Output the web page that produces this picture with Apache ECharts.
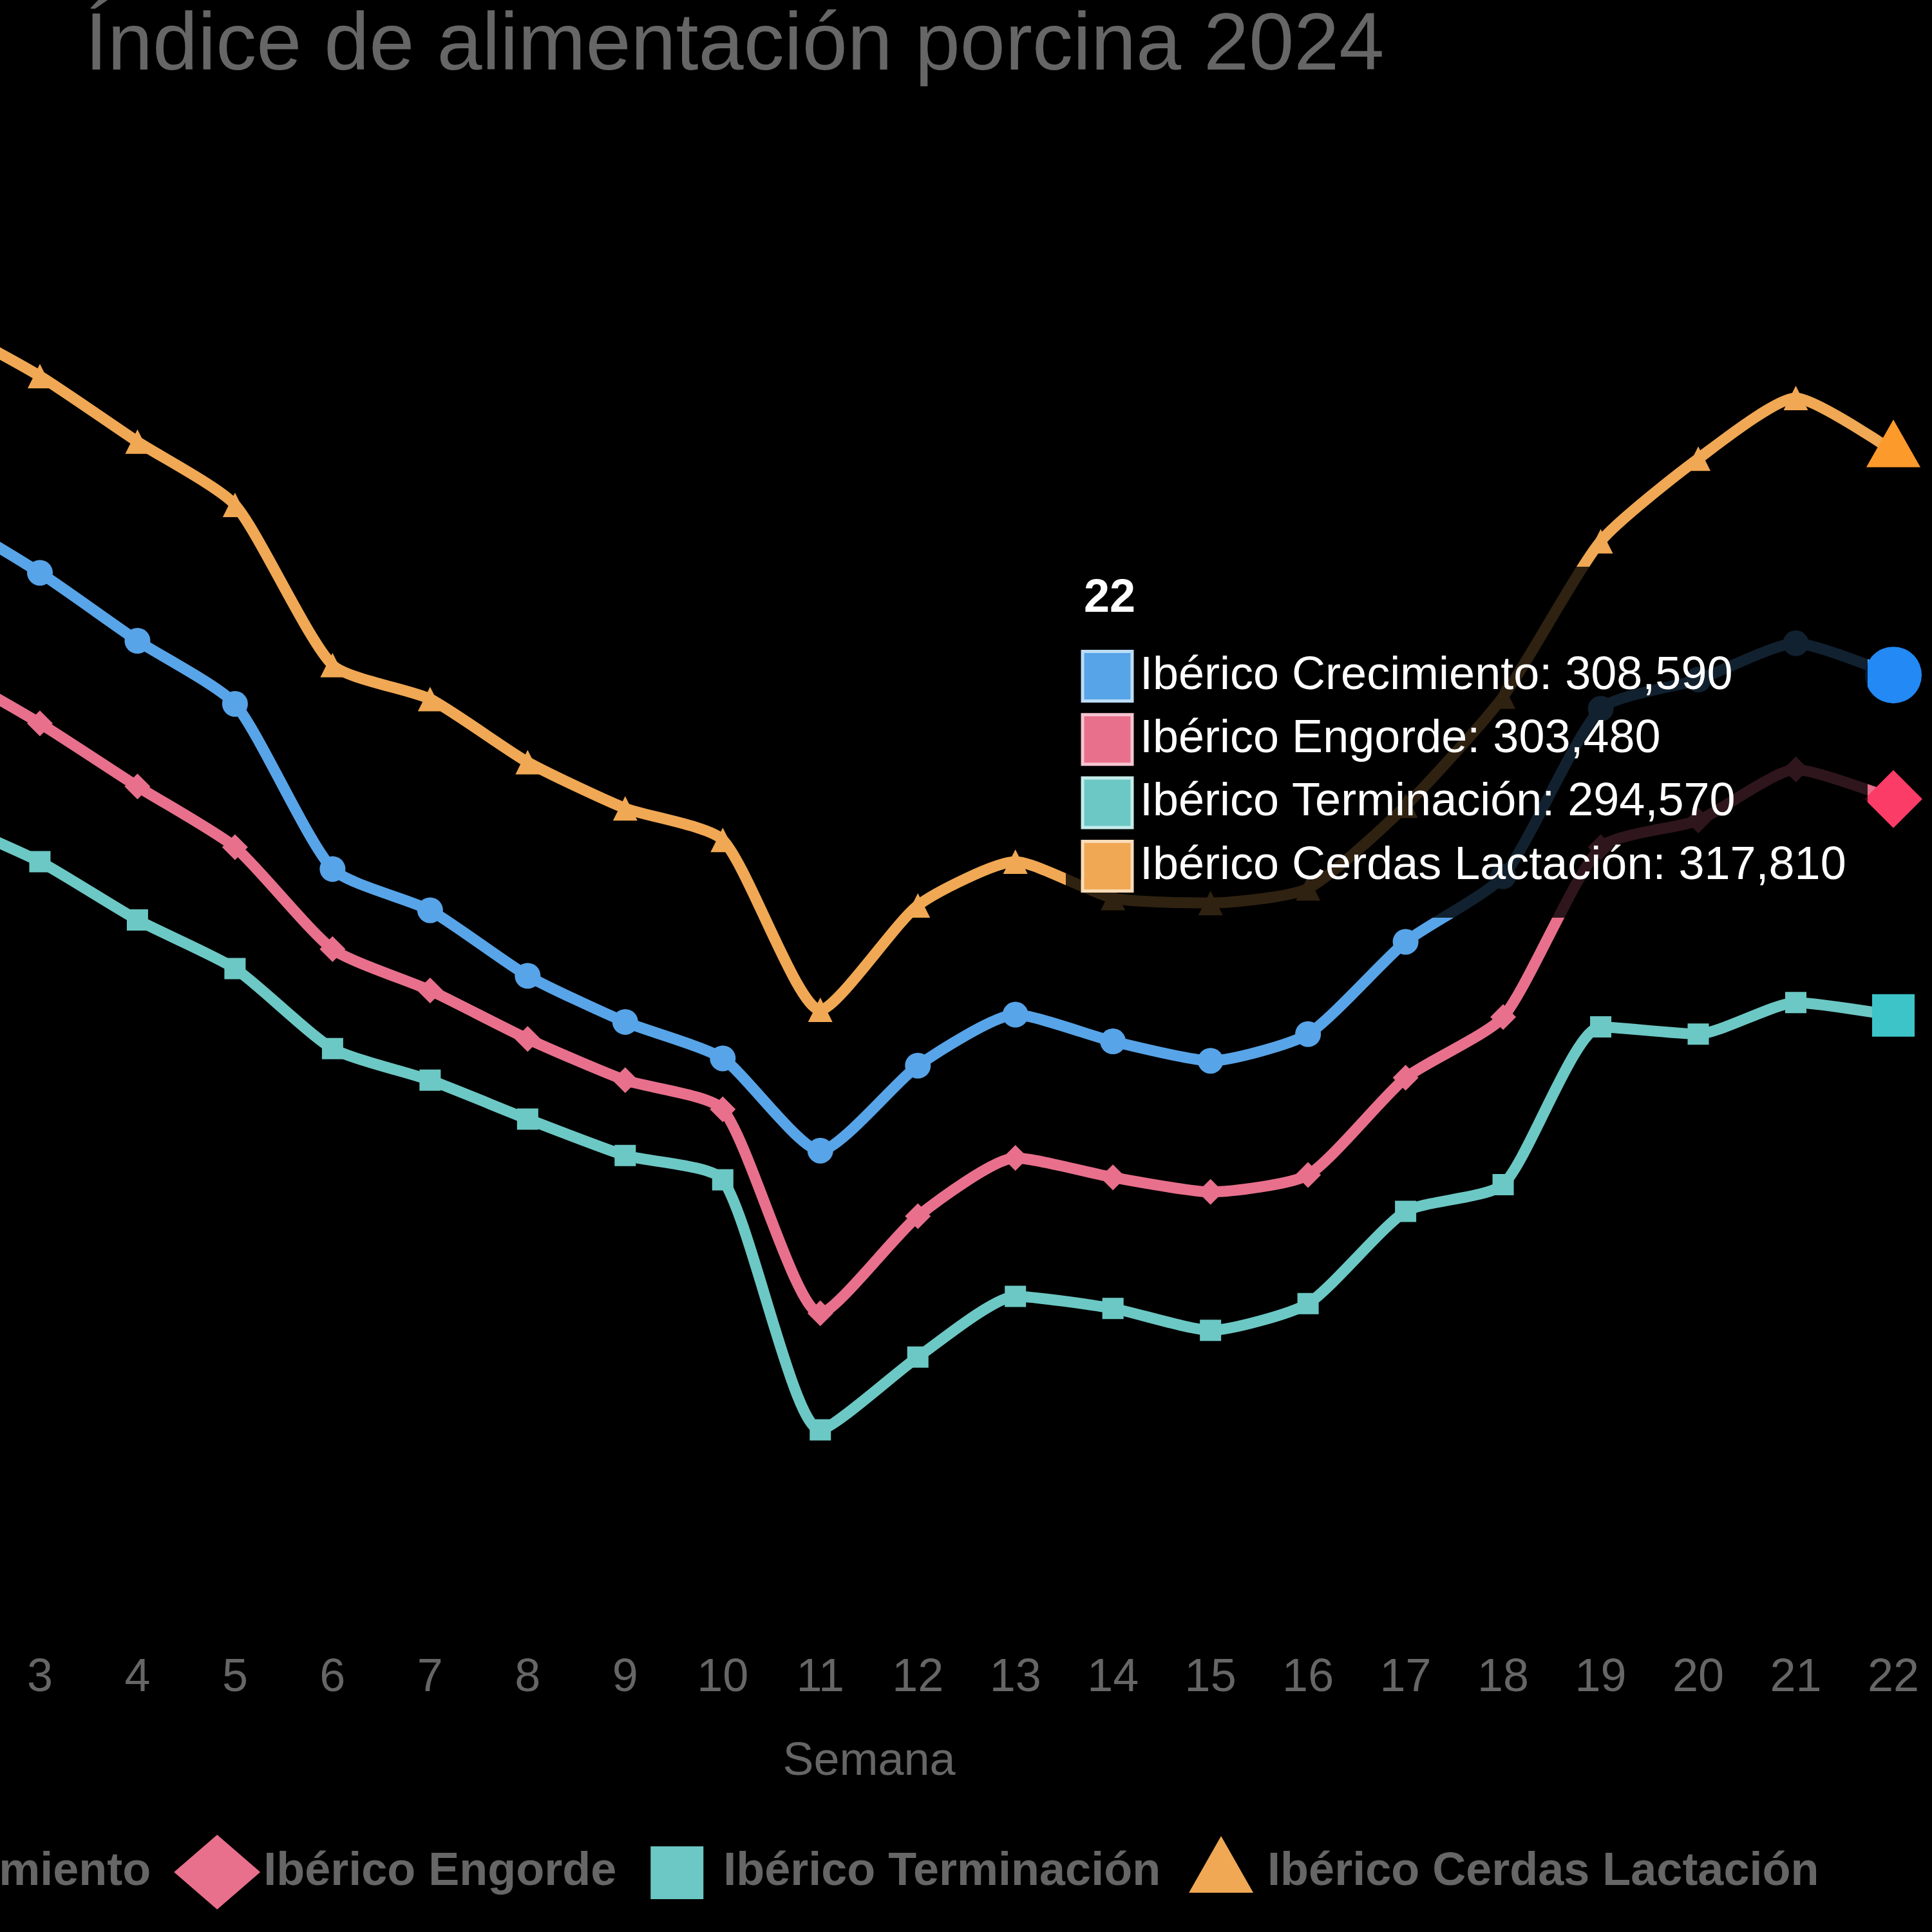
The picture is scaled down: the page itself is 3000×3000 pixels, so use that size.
<!DOCTYPE html>
<html>
<head>
<meta charset="utf-8">
<script src="https://cdn.jsdelivr.net/npm/echarts@6.0.0/dist/echarts.min.js"></script>
<style>
  html, body { margin: 0; padding: 0; background: #000; }
  #grafico { width: 3000px; height: 3000px; }
</style>
</head>
<body>
<div id="grafico"></div>
<script>
// datos (índice semanal)
var semanas = ['1','2','3','4','5','6','7','8','9','10','11','12','13','14','15','16','17','18','19','20','21','22'];
var crecimiento = [317.1, 315.2, 312.8, 310.0, 307.4, 300.6, 298.9, 296.2, 294.3, 292.8, 289.0, 292.5, 294.6, 293.5, 292.7, 293.8, 297.6, 300.3, 307.2, 308.4, 309.9, 308.59];
var engorde     = [311.0, 308.9, 306.6, 304.0, 301.5, 297.3, 295.6, 293.6, 291.9, 290.7, 282.3, 286.3, 288.7, 287.9, 287.3, 288.0, 292.0, 294.5, 301.5, 302.6, 304.7, 303.48];
var terminacion = [304.4, 302.7, 300.9, 298.5, 296.5, 293.2, 291.9, 290.3, 288.8, 287.8, 277.5, 280.5, 283.0, 282.5, 281.6, 282.7, 286.5, 287.6, 294.1, 293.8, 295.1, 294.57];
var lactacion   = [325.0, 323.1, 320.9, 318.2, 315.6, 309.0, 307.6, 305.0, 303.1, 301.8, 294.8, 299.1, 300.9, 299.4, 299.2, 299.8, 303.2, 307.7, 314.1, 317.5, 320.0, 317.81];
var nombres = ['Ibérico Crecimiento', 'Ibérico Engorde', 'Ibérico Terminación', 'Ibérico Cerdas Lactación'];

// estilos
var fuente = '"Liberation Sans", Arial, sans-serif';
var colores = ['#58a4e8', '#e8708c', '#6cc8c4', '#f0a854'];
var coloresHover = ['#2289f5', '#fb3c67', '#3cc4c8', '#fd9a2c'];
var bordesCaja = ['#bcdcf6', '#f6c4d0', '#c4ecea', '#f9dcb8'];
var simbolos = ['circle', 'diamond', 'rect', 'triangle'];
var tamanos = [40, 40, 33, 38];
var tamanosHover = [88, 90, 66, [84, 74]];
var desplHover = [[0, 0], [0, 0], [0, 0], [0, -12]];
var iconosLeyenda = [
  'circle',
  'diamond',
  'path://M0,0L0,0M116,116L116,116M17,18H99V100H17Z',
  'path://M0,0L0,0M116,116L116,116M58,2L108,90H8Z'
];

var valores = [crecimiento, engorde, terminacion, lactacion];
var ultimo = semanas.length - 1;

function fmt(v) { return v.toFixed(3).replace('.', ','); }

var series = valores.map(function (serie, i) {
  return {
    name: nombres[i],
    type: 'line',
    smooth: 0.2,
    symbol: simbolos[i],
    symbolSize: tamanos[i],
    showAllSymbol: true,
    silent: true,
    emphasis: { disabled: true },
    lineStyle: { color: colores[i], width: 17 },
    itemStyle: { color: colores[i], borderWidth: 0 },
    data: serie.map(function (v, k) {
      if (k !== ultimo) return v;
      return { value: v, symbolSize: tamanosHover[i], symbolOffset: desplHover[i],
               itemStyle: { color: coloresHover[i] } };
    })
  };
});

// recuadro tipo tooltip en la semana 22
var tip = { x: 1655, y: 880, w: 1245, h: 545, titleY: 930, row0: 1050, paso: 98.3, caja: 77, cajaX: 1681, textoX: 1770 };
var graficos = [{
  type: 'rect', z: 100,
  shape: { x: tip.x, y: tip.y, width: tip.w, height: tip.h },
  style: { fill: 'rgba(0,0,0,0.8)' }
}, {
  type: 'text', z: 101,
  style: { text: semanas[ultimo], x: tip.cajaX + 2, y: tip.titleY, fill: '#fff',
           font: 'bold 72px ' + fuente, verticalAlign: 'middle' }
}];
valores.forEach(function (serie, i) {
  var yy = tip.row0 + i * tip.paso;
  graficos.push({
    type: 'rect', z: 101,
    shape: { x: tip.cajaX, y: yy - tip.caja / 2, width: tip.caja, height: tip.caja },
    style: { fill: colores[i], stroke: bordesCaja[i], lineWidth: 5 }
  });
  graficos.push({
    type: 'text', z: 101,
    style: { text: nombres[i] + ': ' + fmt(serie[ultimo]), x: tip.textoX, y: yy, fill: '#fff',
             font: '72px ' + fuente, verticalAlign: 'middle' }
  });
});

var option = {
  backgroundColor: '#000',
  animation: false,
  title: {
    text: 'Índice de alimentación porcina 2024',
    left: 127,
    top: 5,
    textStyle: { color: '#666', fontSize: 126, fontWeight: 'normal', fontFamily: fuente }
  },
  legend: {
    data: nombres.map(function (n, i) { return { name: n, icon: iconosLeyenda[i] }; }),
    left: -573,
    top: 2844,
    itemWidth: 134,
    itemHeight: 116,
    itemGap: 36,
    itemStyle: { borderWidth: 0 },
    textStyle: { color: '#666', fontSize: 72, fontWeight: 'bold', fontFamily: fuente },
    selectedMode: false
  },
  grid: { left: -241, right: 60, top: 241, bottom: 497, outerBoundsMode: 'none' },
  xAxis: {
    type: 'category',
    data: semanas,
    boundaryGap: false,
    name: 'Semana',
    nameLocation: 'middle',
    nameGap: 197,
    nameTextStyle: { color: '#666', fontSize: 72, fontFamily: fuente },
    axisLine: { show: false },
    axisTick: { show: false },
    splitLine: { show: false },
    axisLabel: { color: '#666', fontSize: 72, fontFamily: fuente, margin: 67, interval: 0 }
  },
  yAxis: {
    type: 'value',
    min: 270,
    max: 330,
    show: false,
    splitLine: { show: false }
  },
  series: series,
  graphic: graficos
};

echarts.init(document.getElementById('grafico')).setOption(option);
</script>
</body>
</html>
